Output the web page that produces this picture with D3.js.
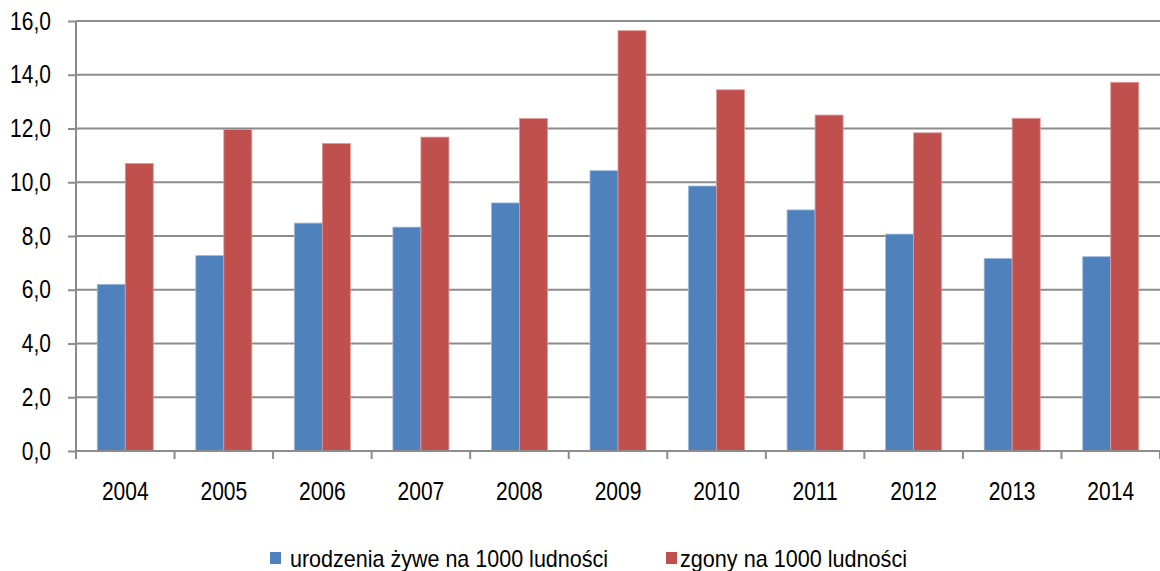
<!DOCTYPE html>
<html><head><meta charset="utf-8">
<script src="https://cdn.jsdelivr.net/npm/d3@7/dist/d3.min.js"></script>
<style>
html,body{margin:0;padding:0;background:#fff;}
svg text{font-family:"Liberation Sans Narrow","Arial Narrow","Liberation Sans",Arial,sans-serif;fill:#000;}
</style>
</head><body>
<svg id="c" width="1160" height="571"></svg>
<script>
const years = ["2004","2005","2006","2007","2008","2009","2010","2011","2012","2013","2014"];
const births = [6.2, 7.27, 8.48, 8.33, 9.23, 10.43, 9.86, 8.97, 8.07, 7.16, 7.23];
const deaths = [10.7, 11.96, 11.44, 11.68, 12.37, 15.64, 13.44, 12.5, 11.84, 12.38, 13.72];
const seriesNames = ["urodzenia żywe na 1000 ludności", "zgony na 1000 ludności"];
const colors = ["#4F81BD", "#C0504D"];
const yTicks = [0,2,4,6,8,10,12,14,16];

(function(){
const svg = d3.select("#c");
const pL = 76, pR = 1160, pT = 21, pB = 451;
const squeeze = 0.84;

const x = d3.scaleBand().domain(years).range([pL, pR]).paddingInner(0).paddingOuter(0);
const y = d3.scaleLinear().domain([0,16]).range([pB, pT]);
const bw = 28;
const fmt = v => d3.format(".1f")(v).replace(".", ",");

function narrow(sel){
  sel.each(function(){
    const w = this.getComputedTextLength();
    d3.select(this).attr("textLength", w*squeeze).attr("lengthAdjust", "spacingAndGlyphs");
  });
}

// gridlines
svg.append("g").selectAll("line").data(yTicks.filter(d=>d>0)).join("line")
  .attr("x1", pL).attr("x2", pR)
  .attr("y1", d=>y(d)).attr("y2", d=>y(d))
  .attr("stroke", "#8c8c8c").attr("stroke-width", 2);

// bars
const series = [births, deaths];
series.forEach((vals, si) => {
  svg.append("g").selectAll("rect").data(years).join("rect")
    .attr("x", (d)=> x(d) + x.bandwidth()/2 - bw + si*bw)
    .attr("width", bw)
    .attr("y", (d,i)=> y(vals[i]))
    .attr("height", (d,i)=> y(0) - y(vals[i]))
    .attr("fill", colors[si])
    .attr("stroke", si===0 ? "#9db7dc" : "#dc9a98")
    .attr("stroke-width", 0.8);
});

// y axis
const yAxis = d3.axisLeft(y).tickValues(yTicks).tickFormat(fmt).tickSize(8).tickPadding(17);
const ya = svg.append("g").attr("transform", `translate(${pL},0)`).call(yAxis);
ya.select(".domain").attr("stroke", "#8c8c8c").attr("stroke-width", 2).attr("d", `M0,${pT}V${pB}`);
ya.selectAll(".tick line").attr("stroke", "#8c8c8c").attr("stroke-width", 2);
ya.selectAll(".tick text").attr("font-size", 25).attr("fill", "#000")
  .style("font-family", '"Liberation Sans Narrow","Arial Narrow","Liberation Sans",Arial,sans-serif')
  .call(narrow);

// x axis
const xa = svg.append("g").attr("transform", `translate(0,${pB})`);
xa.append("line").attr("x1", pL).attr("x2", pR).attr("y1", 0).attr("y2", 0)
  .attr("stroke", "#8c8c8c").attr("stroke-width", 2);
const bounds = years.map(d=>x(d)).concat([pR]);
xa.selectAll("line.t").data(bounds).join("line").attr("class","t")
  .attr("x1", d=>d).attr("x2", d=>d).attr("y1", 0).attr("y2", 8)
  .attr("stroke", "#8c8c8c").attr("stroke-width", 2);
xa.selectAll("text").data(years).join("text")
  .attr("x", d=>x(d)+x.bandwidth()/2).attr("y", 49)
  .attr("text-anchor", "middle").attr("font-size", 25).text(d=>d)
  .call(narrow);

// legend
const leg = [{x:270, tx:290, w:318},{x:666, tx:680, w:227}];
seriesNames.forEach((n,i)=>{
  svg.append("rect").attr("x", leg[i].x).attr("y", 552).attr("width", 11).attr("height", 12).attr("fill", colors[i]);
  svg.append("text").attr("x", leg[i].tx).attr("y", 567).attr("font-size", 24)
    .attr("textLength", leg[i].w).attr("lengthAdjust", "spacingAndGlyphs").text(n);
});
})();
</script>
</body></html>
